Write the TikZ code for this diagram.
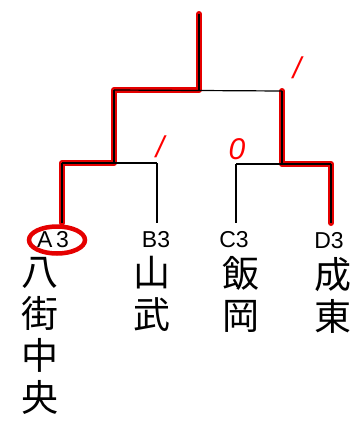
\documentclass[tikz,border=0pt]{standalone}
\usepackage{fontspec}
\usetikzlibrary{shapes.geometric}
\setmainfont{Liberation Sans}
\newfontfamily\jpfont{Noto Sans CJK JP}
\begin{document}
\begin{tikzpicture}[x=1pt,y=-1pt,
  bline/.style={black,line width=1.2pt},
  rline/.style={red!90!black,line width=6pt,line cap=round,line join=round},
  team/.style={font=\fontsize{23}{23}\selectfont,inner sep=0pt},
  school/.style={font=\jpfont\fontsize{37}{42}\selectfont,align=center,inner sep=0pt,anchor=north},
  score/.style={red,font=\itshape\fontsize{30}{30}\selectfont,inner sep=0pt}]
\useasboundingbox (0,0) rectangle (360,421);
% coordinates
\coordinate (top) at (199,14);
\coordinate (fm) at (199,90);
\coordinate (fl) at (114,90);
\coordinate (fr) at (282,91);
\coordinate (sl) at (114,163);
\coordinate (sr) at (282,164);
\coordinate (la) at (62,163);
\coordinate (lb) at (157,163);
\coordinate (rc) at (236,164);
\coordinate (rd) at (331,164);
\coordinate (ea) at (62,223);
\coordinate (eb) at (157,223);
\coordinate (ec) at (236,223);
\coordinate (ed) at (331,223);
\node[team] (A) at (53,240) {A\,3};
\node[team] (B) at (156,240) {B3};
\node[team] (C) at (234,240) {C3};
\node[team] (D) at (329,241) {D3};
% red winner path (behind)
\draw[rline] (top) -- (fm) -- (fl) -- (sl) -- (la) -- (ea);
\draw[rline] (fr) -- (sr) -- (rd) -- (ed);
\node[draw=red!90!black,line width=4.5pt,ellipse,minimum width=56pt,minimum height=27pt,inner sep=0pt] (Aring) at (57,240) {};
% black bracket
\draw[bline] (top) -- (fm);
\draw[bline] (fl) -- (fr);
\draw[bline] (fl) -- (sl);
\draw[bline] (fr) -- (sr);
\draw[bline] (la) -- (lb);
\draw[bline] (rc) -- (rd);
\draw[bline] (la) -- (ea);
\draw[bline] (lb) -- (eb);
\draw[bline] (rc) -- (ec);
\draw[bline] (rd) -- (ed);
% scores
\node[score] (s1) at (297,68) {/};
\node[score] (s2) at (160,147) {/};
\node[score] (s3) at (237,149) {0};
% school names
\node[school] (nA) at (40,257) {八\\街\\中\\央};
\node[school] (nB) at (152,256) {山\\武};
\node[school] (nC) at (241,256) {飯\\岡};
\node[school] (nD) at (333,257) {成\\東};
\end{tikzpicture}
\end{document}
